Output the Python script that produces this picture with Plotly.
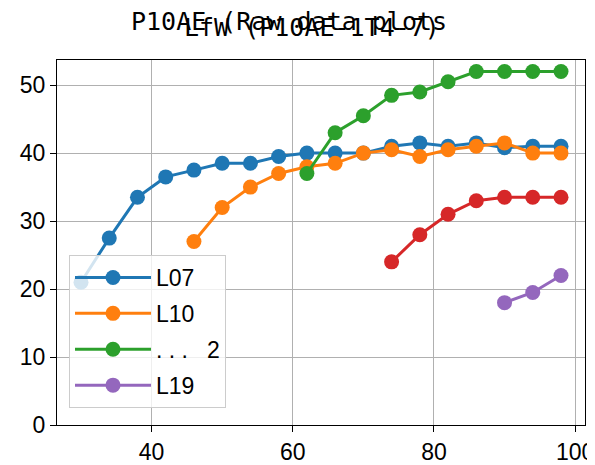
import plotly.graph_objects as go

# ---- data ----
x_l07 = [30, 34, 38, 42, 46, 50, 54, 58, 62, 66, 70, 74, 78, 82, 86, 90, 94, 98]
y_l07 = [21, 27.5, 33.5, 36.5, 37.5, 38.5, 38.5, 39.5, 40, 40, 40, 41, 41.5, 41, 41.5, 40.8, 41, 41]

x_l10 = [46, 50, 54, 58, 62, 66, 70, 74, 78, 82, 86, 90, 94, 98]
y_l10 = [27, 32, 35, 37, 38, 38.5, 40, 40.5, 39.5, 40.5, 41, 41.5, 40, 40]

x_l12 = [62, 66, 70, 74, 78, 82, 86, 90, 94, 98]
y_l12 = [37, 43, 45.5, 48.5, 49, 50.5, 52, 52, 52, 52]

x_red = [74, 78, 82, 86, 90, 94, 98]
y_red = [24, 28, 31, 33, 33.5, 33.5, 33.5]

x_l19 = [90, 94, 98]
y_l19 = [18, 19.5, 22]

series = [
    ("L07", x_l07, y_l07, "#1f77b4", True),
    ("L10", x_l10, y_l10, "#ff7f0e", True),
    (".\u00a0.\u00a0.\u00a0\u00a0\u00a02", x_l12, y_l12, "#2ca02c", True),
    ("_red", x_red, y_red, "#d62728", False),
    ("L19", x_l19, y_l19, "#9467bd", True),
]

x_ticks = [40, 60, 80, 100]
y_ticks = [0, 10, 20, 30, 40, 50]

suptitle = "P10AE (Raw data plots"
axtitle = "LfW (P10AE-1T4-7)"

FONT = "Liberation Sans"
TFONT = "DejaVu Sans Mono"

fig = go.Figure()
for i, (name, xs, ys, col, show) in enumerate(series):
    fig.add_trace(go.Scatter(
        x=xs, y=ys, name=name, mode="lines+markers",
        line=dict(color=col, width=3),
        marker=dict(color=col, size=15),
        showlegend=show, legendgroup=f"g{i}",
    ))

# page is offset by the default 8px body margin
OFF = 8
W, H = 595 - OFF, 465 - OFF
ml, mr, mt, mb = 57 - OFF, 10, 60 - OFF, 40
pw, ph = W - ml - mr, H - mt - mb

def px(xp):  # page pixel -> paper fraction
    return (xp - OFF - ml) / pw

def py(yp):
    return (H - mb - (yp - OFF)) / ph

axis_common = dict(
    showline=True, linecolor="black", linewidth=1.3, mirror=True,
    ticks="outside", ticklen=6, tickwidth=1.3, tickcolor="black",
    showgrid=True, gridcolor="#b0b0b0", gridwidth=1.3,
    zeroline=False, automargin=False,
    tickfont=dict(family=FONT, size=23, color="black"),
)

fig.update_layout(
    width=W, height=H,
    margin=dict(l=ml, r=mr, t=mt, b=mb, autoexpand=False),
    plot_bgcolor="white", paper_bgcolor="white",
    xaxis=dict(range=[26.6, 101.4], tickvals=x_ticks, **axis_common),
    yaxis=dict(range=[0, 53.7], tickvals=y_ticks, **axis_common),
    legend=dict(
        x=px(69), y=py(408), xanchor="left", yanchor="bottom",
        bgcolor="rgba(255,255,255,0.8)", bordercolor="#cccccc", borderwidth=1,
        font=dict(family=FONT, size=23, color="black"),
        tracegroupgap=3, itemwidth=76,
    ),
    showlegend=True,
    annotations=[
        dict(text=suptitle, x=px(289), y=py(21), xref="paper", yref="paper",
             xanchor="center", yanchor="middle", showarrow=False,
             font=dict(family=TFONT, size=25, color="black")),
        dict(text=axtitle, x=px(312), y=py(27), xref="paper", yref="paper",
             xanchor="center", yanchor="middle", showarrow=False,
             font=dict(family=TFONT, size=25, color="black")),
    ],
)

fig.write_html("out.html")
